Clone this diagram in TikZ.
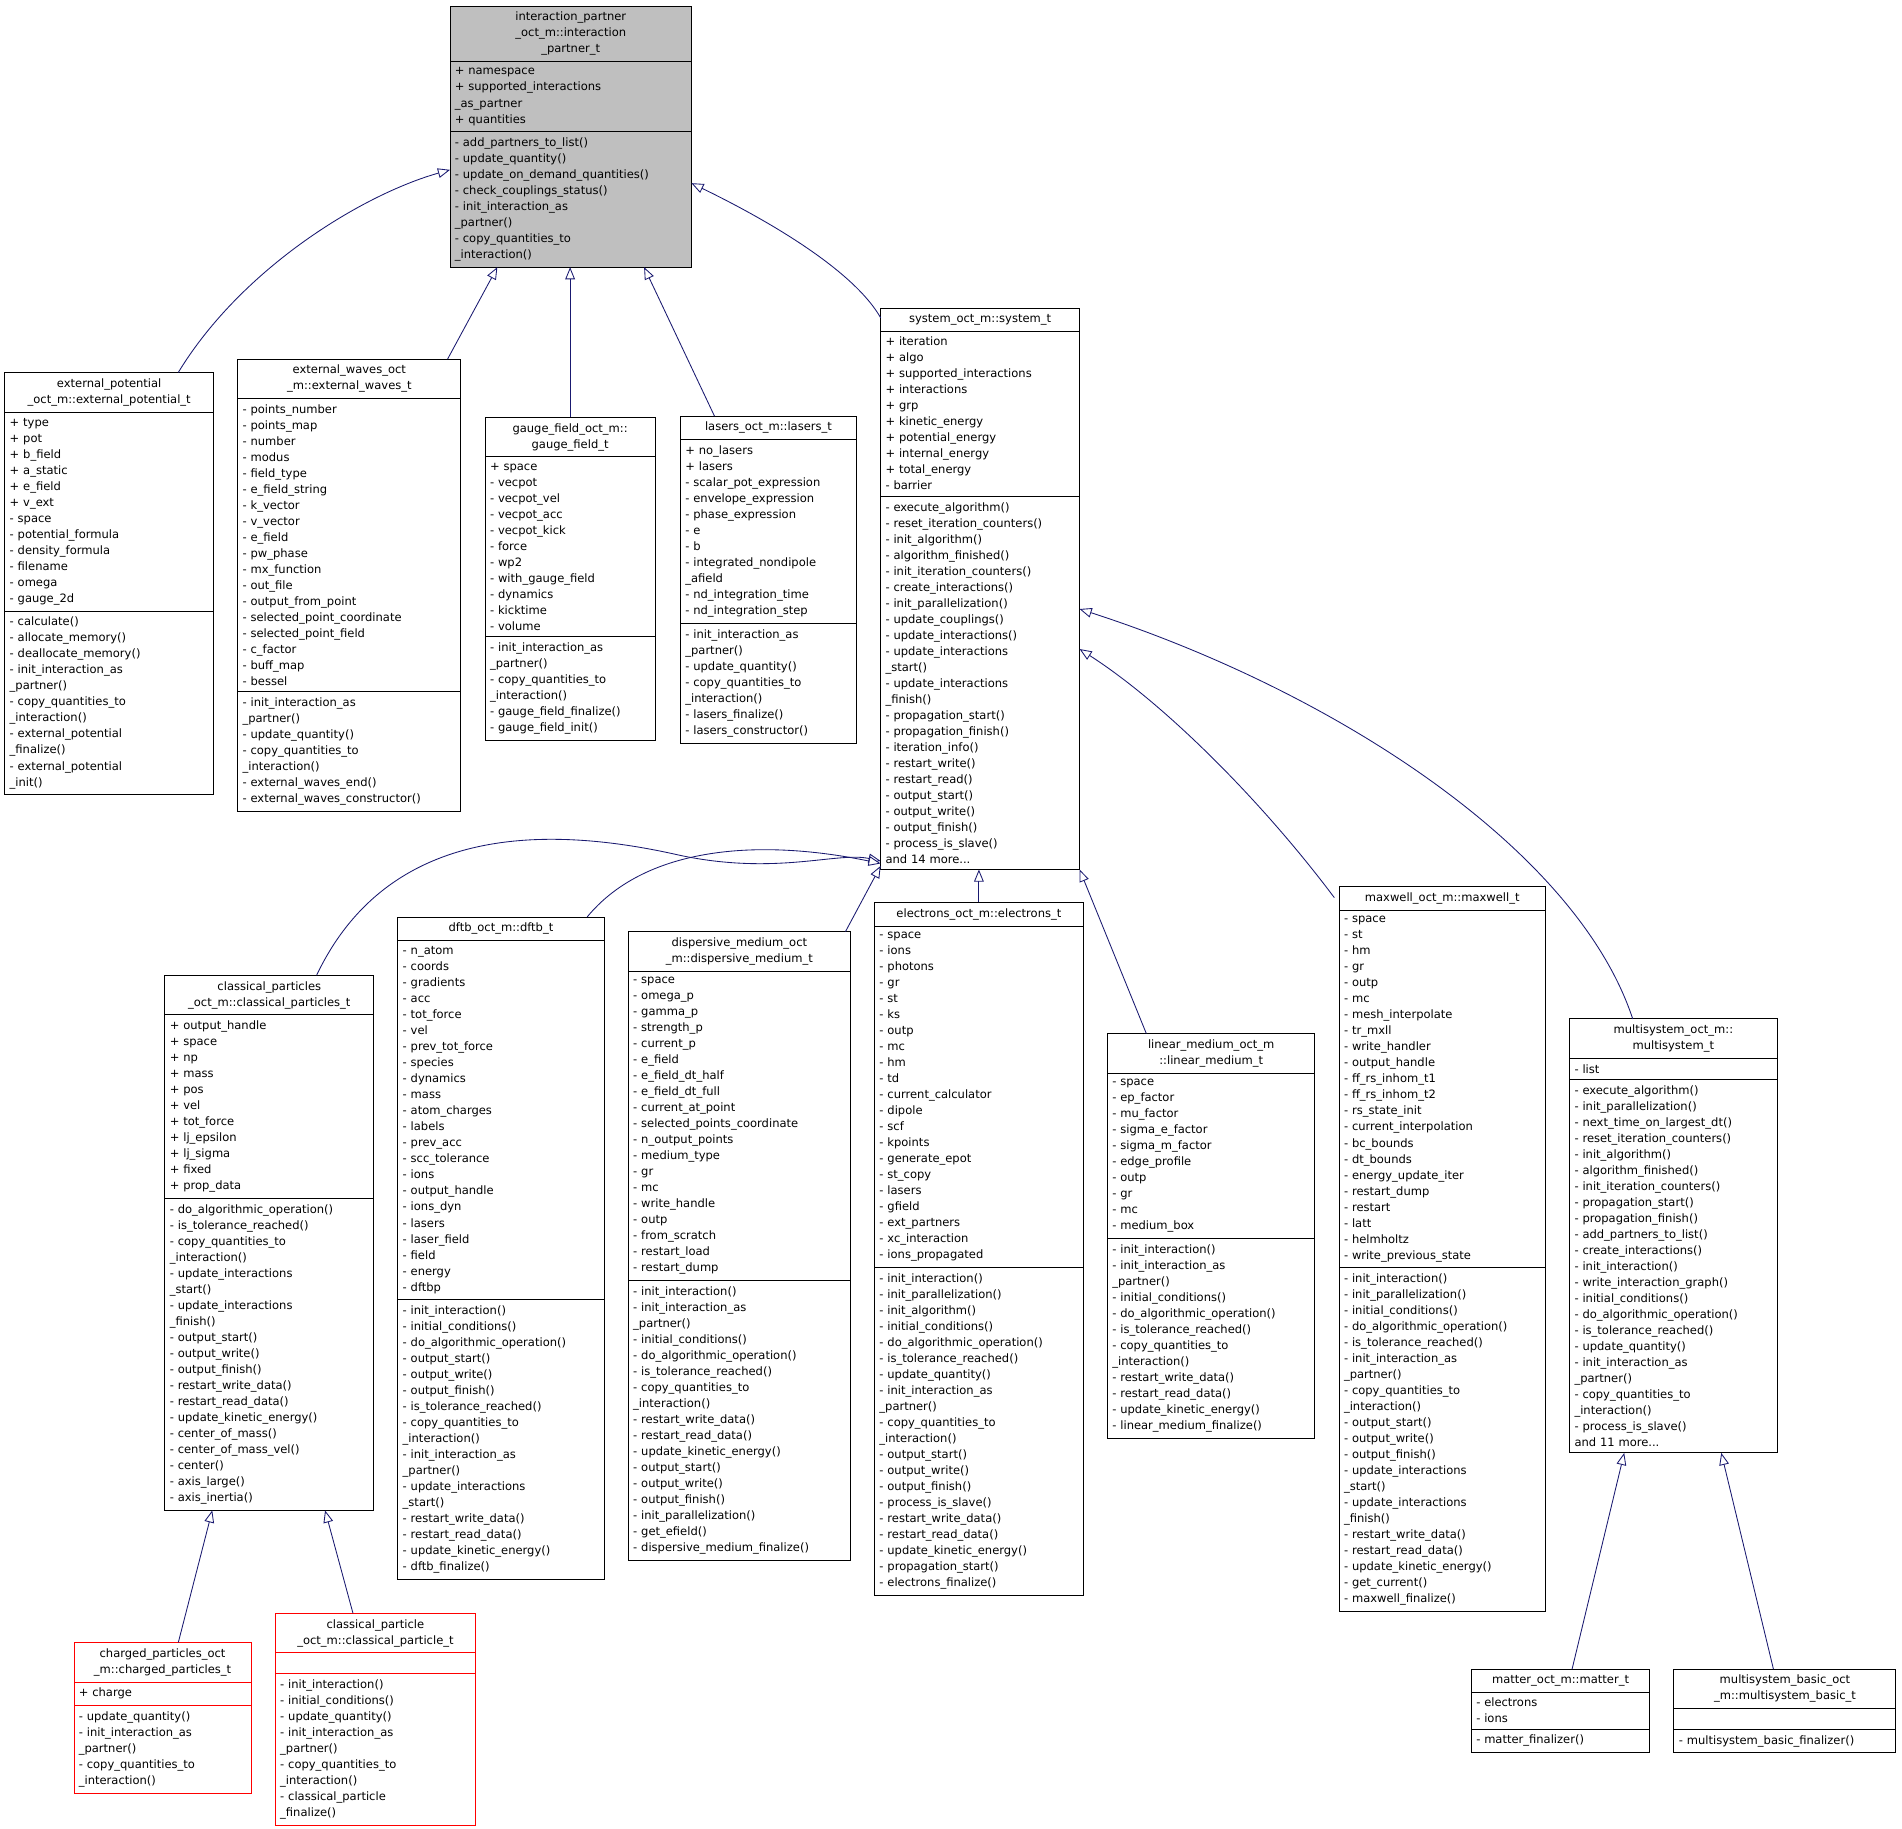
\documentclass[tikz,border=0pt]{standalone}
\usepackage{fontspec}
\setmainfont{DejaVu Sans}
\usetikzlibrary{arrows.meta,calc}
\definecolor{edgec}{HTML}{191970}
\definecolor{ipgray}{HTML}{BFBFBF}
\tikzset{
 umlpart/.style={draw=black,line width=0.8pt,inner xsep=4pt,inner ysep=5pt,outer sep=0pt,
   font=\fontsize{9.5}{13.2}\selectfont},
 redbox/.style={draw=red},
 graybox/.style={fill=ipgray},
 edge/.style={draw=edgec,line width=0.7pt,-{Triangle[open,length=10pt,width=8pt,fill=white]}}
}
% #1 opts, #2 id, #3 x, #4 y, #5 text width, #6 title, #7 attrs, #8 methods
\newcommand\umlbox[8]{%
 \node[umlpart,#1,text width=#5pt,align=center,anchor=north west] (#2-t) at (#3,#4) {#6};
 \node[umlpart,#1,text width=#5pt,align=left,anchor=north west] (#2-a) at (#2-t.south west) {#7};
 \node[umlpart,#1,text width=#5pt,align=left,anchor=north west] (#2-m) at (#2-a.south west) {#8};}
\catcode`\_=12
\begin{document}
\begin{tikzpicture}[x=1pt,y=-1pt]
\useasboundingbox[fill=white] (0,0) rectangle (1568,1507);
\umlbox{graybox}{ip}{371}{5}{191}{interaction_partner\\_oct_m::interaction\\_partner_t}
{+ namespace\\+ supported_interactions\\_as_partner\\+ quantities}
{- add_partners_to_list()\\- update_quantity()\\- update_on_demand_quantities()\\- check_couplings_status()\\- init_interaction_as\\_partner()\\- copy_quantities_to\\_interaction()}
\umlbox{}{ep}{4}{307}{164}{external_potential\\_oct_m::external_potential_t}
{+ type\\+ pot\\+ b_field\\+ a_static\\+ e_field\\+ v_ext\\- space\\- potential_formula\\- density_formula\\- filename\\- omega\\- gauge_2d}
{- calculate()\\- allocate_memory()\\- deallocate_memory()\\- init_interaction_as\\_partner()\\- copy_quantities_to\\_interaction()\\- external_potential\\_finalize()\\- external_potential\\_init()}
\umlbox{}{ew}{196}{296}{176}{external_waves_oct\\_m::external_waves_t}
{- points_number\\- points_map\\- number\\- modus\\- field_type\\- e_field_string\\- k_vector\\- v_vector\\- e_field\\- pw_phase\\- mx_function\\- out_file\\- output_from_point\\- selected_point_coordinate\\- selected_point_field\\- c_factor\\- buff_map\\- bessel}
{- init_interaction_as\\_partner()\\- update_quantity()\\- copy_quantities_to\\_interaction()\\- external_waves_end()\\- external_waves_constructor()}
\umlbox{}{gf}{400}{344}{132}{gauge_field_oct_m::\\gauge_field_t}
{+ space\\- vecpot\\- vecpot_vel\\- vecpot_acc\\- vecpot_kick\\- force\\- wp2\\- with_gauge_field\\- dynamics\\- kicktime\\- volume}
{- init_interaction_as\\_partner()\\- copy_quantities_to\\_interaction()\\- gauge_field_finalize()\\- gauge_field_init()}
\umlbox{}{la}{561}{343}{137}{lasers_oct_m::lasers_t}
{+ no_lasers\\+ lasers\\- scalar_pot_expression\\- envelope_expression\\- phase_expression\\- e\\- b\\- integrated_nondipole\\_afield\\- nd_integration_time\\- nd_integration_step}
{- init_interaction_as\\_partner()\\- update_quantity()\\- copy_quantities_to\\_interaction()\\- lasers_finalize()\\- lasers_constructor()}
\umlbox{}{sy}{726}{254}{156}{system_oct_m::system_t}
{+ iteration\\+ algo\\+ supported_interactions\\+ interactions\\+ grp\\+ kinetic_energy\\+ potential_energy\\+ internal_energy\\+ total_energy\\- barrier}
{- execute_algorithm()\\- reset_iteration_counters()\\- init_algorithm()\\- algorithm_finished()\\- init_iteration_counters()\\- create_interactions()\\- init_parallelization()\\- update_couplings()\\- update_interactions()\\- update_interactions\\_start()\\- update_interactions\\_finish()\\- propagation_start()\\- propagation_finish()\\- iteration_info()\\- restart_write()\\- restart_read()\\- output_start()\\- output_write()\\- output_finish()\\- process_is_slave()\\and 14 more...}
\umlbox{}{cp}{136}{804}{164}{classical_particles\\_oct_m::classical_particles_t}
{+ output_handle\\+ space\\+ np\\+ mass\\+ pos\\+ vel\\+ tot_force\\+ lj_epsilon\\+ lj_sigma\\+ fixed\\+ prop_data}
{- do_algorithmic_operation()\\- is_tolerance_reached()\\- copy_quantities_to\\_interaction()\\- update_interactions\\_start()\\- update_interactions\\_finish()\\- output_start()\\- output_write()\\- output_finish()\\- restart_write_data()\\- restart_read_data()\\- update_kinetic_energy()\\- center_of_mass()\\- center_of_mass_vel()\\- center()\\- axis_large()\\- axis_inertia()}
\umlbox{}{df}{328}{756}{162}{dftb_oct_m::dftb_t}
{- n_atom\\- coords\\- gradients\\- acc\\- tot_force\\- vel\\- prev_tot_force\\- species\\- dynamics\\- mass\\- atom_charges\\- labels\\- prev_acc\\- scc_tolerance\\- ions\\- output_handle\\- ions_dyn\\- lasers\\- laser_field\\- field\\- energy\\- dftbp}
{- init_interaction()\\- initial_conditions()\\- do_algorithmic_operation()\\- output_start()\\- output_write()\\- output_finish()\\- is_tolerance_reached()\\- copy_quantities_to\\_interaction()\\- init_interaction_as\\_partner()\\- update_interactions\\_start()\\- restart_write_data()\\- restart_read_data()\\- update_kinetic_energy()\\- dftb_finalize()}
\umlbox{}{dm}{518}{768}{175}{dispersive_medium_oct\\_m::dispersive_medium_t}
{- space\\- omega_p\\- gamma_p\\- strength_p\\- current_p\\- e_field\\- e_field_dt_half\\- e_field_dt_full\\- current_at_point\\- selected_points_coordinate\\- n_output_points\\- medium_type\\- gr\\- mc\\- write_handle\\- outp\\- from_scratch\\- restart_load\\- restart_dump}
{- init_interaction()\\- init_interaction_as\\_partner()\\- initial_conditions()\\- do_algorithmic_operation()\\- is_tolerance_reached()\\- copy_quantities_to\\_interaction()\\- restart_write_data()\\- restart_read_data()\\- update_kinetic_energy()\\- output_start()\\- output_write()\\- output_finish()\\- init_parallelization()\\- get_efield()\\- dispersive_medium_finalize()}
\umlbox{}{el}{721}{744}{164}{electrons_oct_m::electrons_t}
{- space\\- ions\\- photons\\- gr\\- st\\- ks\\- outp\\- mc\\- hm\\- td\\- current_calculator\\- dipole\\- scf\\- kpoints\\- generate_epot\\- st_copy\\- lasers\\- gfield\\- ext_partners\\- xc_interaction\\- ions_propagated}
{- init_interaction()\\- init_parallelization()\\- init_algorithm()\\- initial_conditions()\\- do_algorithmic_operation()\\- is_tolerance_reached()\\- update_quantity()\\- init_interaction_as\\_partner()\\- copy_quantities_to\\_interaction()\\- output_start()\\- output_write()\\- output_finish()\\- process_is_slave()\\- restart_write_data()\\- restart_read_data()\\- update_kinetic_energy()\\- propagation_start()\\- electrons_finalize()}
\umlbox{}{lm}{913}{852}{163}{linear_medium_oct_m\\::linear_medium_t}
{- space\\- ep_factor\\- mu_factor\\- sigma_e_factor\\- sigma_m_factor\\- edge_profile\\- outp\\- gr\\- mc\\- medium_box}
{- init_interaction()\\- init_interaction_as\\_partner()\\- initial_conditions()\\- do_algorithmic_operation()\\- is_tolerance_reached()\\- copy_quantities_to\\_interaction()\\- restart_write_data()\\- restart_read_data()\\- update_kinetic_energy()\\- linear_medium_finalize()}
\umlbox{}{mx}{1104}{731}{162}{maxwell_oct_m::maxwell_t}
{- space\\- st\\- hm\\- gr\\- outp\\- mc\\- mesh_interpolate\\- tr_mxll\\- write_handler\\- output_handle\\- ff_rs_inhom_t1\\- ff_rs_inhom_t2\\- rs_state_init\\- current_interpolation\\- bc_bounds\\- dt_bounds\\- energy_update_iter\\- restart_dump\\- restart\\- latt\\- helmholtz\\- write_previous_state}
{- init_interaction()\\- init_parallelization()\\- initial_conditions()\\- do_algorithmic_operation()\\- is_tolerance_reached()\\- init_interaction_as\\_partner()\\- copy_quantities_to\\_interaction()\\- output_start()\\- output_write()\\- output_finish()\\- update_interactions\\_start()\\- update_interactions\\_finish()\\- restart_write_data()\\- restart_read_data()\\- update_kinetic_energy()\\- get_current()\\- maxwell_finalize()}
\umlbox{}{ms}{1294}{840}{163}{multisystem_oct_m::\\multisystem_t}
{- list}
{- execute_algorithm()\\- init_parallelization()\\- next_time_on_largest_dt()\\- reset_iteration_counters()\\- init_algorithm()\\- algorithm_finished()\\- init_iteration_counters()\\- propagation_start()\\- propagation_finish()\\- add_partners_to_list()\\- create_interactions()\\- init_interaction()\\- write_interaction_graph()\\- initial_conditions()\\- do_algorithmic_operation()\\- is_tolerance_reached()\\- update_quantity()\\- init_interaction_as\\_partner()\\- copy_quantities_to\\_interaction()\\- process_is_slave()\\and 11 more...}
\umlbox{redbox}{ch}{61}{1354}{138}{charged_particles_oct\\_m::charged_particles_t}
{+ charge}
{- update_quantity()\\- init_interaction_as\\_partner()\\- copy_quantities_to\\_interaction()}
\umlbox{redbox}{cl}{227}{1330}{157}{classical_particle\\_oct_m::classical_particle_t}
{\vphantom{X}}
{- init_interaction()\\- initial_conditions()\\- update_quantity()\\- init_interaction_as\\_partner()\\- copy_quantities_to\\_interaction()\\- classical_particle\\_finalize()}
\umlbox{}{mt}{1213}{1376}{139}{matter_oct_m::matter_t}
{- electrons\\- ions}
{- matter_finalizer()}
\umlbox{}{mb}{1380}{1376}{175}{multisystem_basic_oct\\_m::multisystem_basic_t}
{\vphantom{X}}
{- multisystem_basic_finalizer()}
% edges
\draw[edge] ($(ep-t.north west)+(143,0)$) .. controls (200,220) and (300,160) .. ($(ip-t.north west)+(0,135)$);
\draw[edge] ($(ew-t.north west)+(173,0)$) -- ($(ip-m.south west)+(39,0)$);
\draw[edge] ($(gf-t.north west)+(70,0)$) -- ($(ip-m.south west)+(99,0)$);
\draw[edge] ($(la-t.north west)+(28,0)$) -- ($(ip-m.south west)+(160,0)$);
\draw[edge] ($(sy-t.north west)+(0,8)$) .. controls (705,225) and (640,185) .. ($(ip-t.north east)+(0,146)$);
\draw[edge] ($(cp-t.north west)+(125,0)$) .. controls (320,680) and (450,680) .. (560,705) .. controls (640,722) and (690,702) .. ($(sy-m.south west)+(0,-7)$);
\draw[edge] ($(df-t.north west)+(156,0)$) .. controls (530,700) and (620,690) .. ($(sy-m.south west)+(0,-5)$);
\draw[edge] ($(dm-t.north west)+(179,0)$) -- ($(sy-m.south west)+(0,-3)$);
\draw[edge] ($(el-t.north west)+(86,0)$) -- ($(sy-m.south west)+(81,0)$);
\draw[edge] ($(lm-t.north west)+(32,0)$) -- (sy-m.south east);
\draw[edge] ($(mx-t.north west)+(-4,9)$) .. controls (1040,660) and (960,580) .. ($(sy-m.north east)+(0,126)$);
\draw[edge] ($(ms-t.north west)+(52,0)$) .. controls (1300,700) and (1100,570) .. ($(sy-m.north east)+(0,93)$);
\draw[edge] ($(ch-t.north west)+(86,0)$) -- ($(cp-m.south west)+(39,0)$);
\draw[edge] ($(cl-t.north west)+(64,0)$) -- ($(cp-m.south west)+(132,0)$);
\draw[edge] ($(mt-t.north west)+(83,0)$) -- ($(ms-m.south west)+(45,0)$);
\draw[edge] ($(mb-t.north west)+(82,0)$) -- ($(ms-m.south west)+(125,0)$);
\end{tikzpicture}
\end{document}
